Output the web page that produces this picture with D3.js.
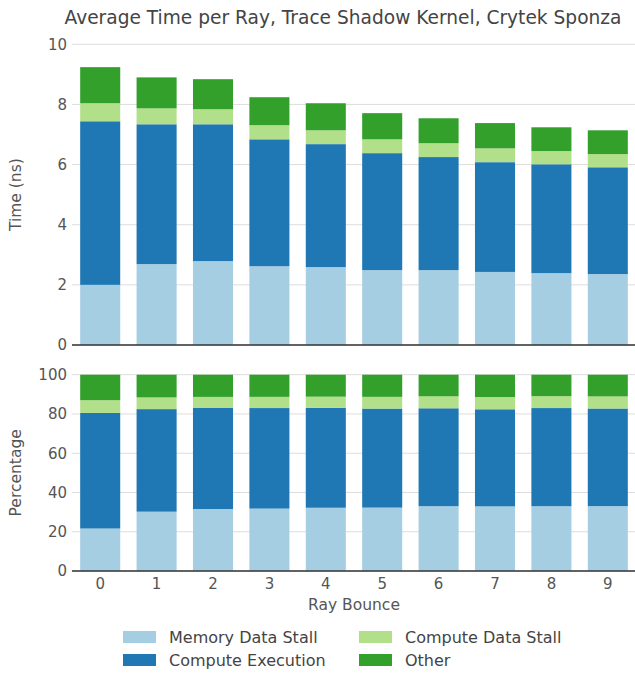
<!DOCTYPE html>
<html>
<head>
<meta charset="utf-8">
<script src="https://cdn.jsdelivr.net/npm/d3@7"></script>
<style>
  body { margin: 0; background: #fff; }
  svg text { font-family: "DejaVu Sans", sans-serif; }
</style>
</head>
<body>
<svg id="chart" width="635" height="673"></svg>
<script>
const categories = ["0","1","2","3","4","5","6","7","8","9"];
const seriesNames = ["Memory Data Stall","Compute Execution","Compute Data Stall","Other"];
const memoryDataStall   = [2.00, 2.69, 2.79, 2.62, 2.59, 2.49, 2.49, 2.43, 2.39, 2.36];
const computeExecution  = [5.44, 4.65, 4.55, 4.22, 4.09, 3.89, 3.76, 3.65, 3.62, 3.55];
const computeDataStall  = [0.60, 0.53, 0.50, 0.47, 0.46, 0.46, 0.46, 0.46, 0.44, 0.44];
const other             = [1.20, 1.03, 1.00, 0.93, 0.90, 0.87, 0.83, 0.84, 0.79, 0.79];
const timeTicks = [0, 2, 4, 6, 8, 10];
const pctTicks = [0, 20, 40, 60, 80, 100];
const colors = ["#a6cee3", "#1f78b4", "#b2df8a", "#33a02c"];

const seriesValues = [memoryDataStall, computeExecution, computeDataStall, other];
const rows = categories.map((c, i) => {
  const r = { cat: c };
  seriesNames.forEach((s, j) => r[s] = seriesValues[j][i]);
  return r;
});
const pctRows = rows.map(r => {
  const tot = d3.sum(seriesNames, s => r[s]);
  const o = { cat: r.cat };
  seriesNames.forEach(s => o[s] = r[s] / tot * 100);
  return o;
});

const svg = d3.select("#chart");
const textColor = "#555";
const x = d3.scaleBand().domain(categories).range([72, 636]).paddingInner(0.29).paddingOuter(0.145);
const stack = d3.stack().keys(seriesNames);

function panel(data, yDomain, yRange, ticks, label) {
  const y = d3.scaleLinear().domain(yDomain).range(yRange);
  const g = svg.append("g");
  g.selectAll("line.grid").data(ticks).join("line")
    .attr("x1", 72).attr("x2", 636)
    .attr("y1", d => y(d)).attr("y2", d => y(d))
    .attr("stroke", "#dddddd").attr("stroke-width", 1);
  const layers = stack(data);
  g.selectAll("g.layer").data(layers).join("g")
    .attr("fill", (d, i) => colors[i])
    .selectAll("rect").data(d => d).join("rect")
    .attr("x", d => x(d.data.cat))
    .attr("width", x.bandwidth())
    .attr("y", d => y(d[1]))
    .attr("height", d => y(d[0]) - y(d[1]));
  const ya = d3.axisLeft(y).tickValues(ticks).tickSize(0).tickPadding(5).tickFormat(d3.format("d"));
  const yg = g.append("g").attr("transform", "translate(72,0)").call(ya);
  yg.select(".domain").remove();
  yg.selectAll("text").attr("fill", textColor).attr("font-size", 15).attr("font-family", "DejaVu Sans");
  g.append("line").attr("x1", 72).attr("x2", 636)
    .attr("y1", y(0)).attr("y2", y(0)).attr("stroke", "#333").attr("stroke-width", 1.5);
  g.append("text")
    .attr("transform", `translate(21,${(yRange[0] + yRange[1]) / 2}) rotate(-90)`)
    .attr("text-anchor", "middle")
    .attr("fill", textColor).attr("font-size", 15.5)
    .text(label);
  return y;
}

panel(rows, [0, 10], [345, 44.3], timeTicks, "Time (ns)");
panel(pctRows, [0, 100], [571, 374.7], pctTicks, "Percentage");

const xa = d3.axisBottom(x).tickSize(0).tickPadding(7);
const xg = svg.append("g").attr("transform", "translate(0,571)").call(xa);
xg.select(".domain").remove();
xg.selectAll("text").attr("fill", textColor).attr("font-size", 15).attr("font-family", "DejaVu Sans");

svg.append("text").attr("x", 354).attr("y", 610).attr("text-anchor", "middle")
  .attr("fill", textColor).attr("font-size", 15.5).text("Ray Bounce");

svg.append("text").attr("x", 343).attr("y", 24).attr("text-anchor", "middle")
  .attr("fill", "#444").attr("font-size", 18.6).text("Average Time per Ray, Trace Shadow Kernel, Crytek Sponza");

const legendPos = [[123, 631], [123, 654], [359, 631], [359, 654]];
const lg = svg.append("g");
seriesNames.forEach((name, k) => {
  const [lx, ly] = legendPos[k];
  lg.append("rect").attr("x", lx).attr("y", ly).attr("width", 33).attr("height", 12).attr("fill", colors[k]);
  lg.append("text").attr("x", lx + 46).attr("y", ly + 12).attr("fill", "#444").attr("font-size", 16).text(name);
});
</script>
</body>
</html>
